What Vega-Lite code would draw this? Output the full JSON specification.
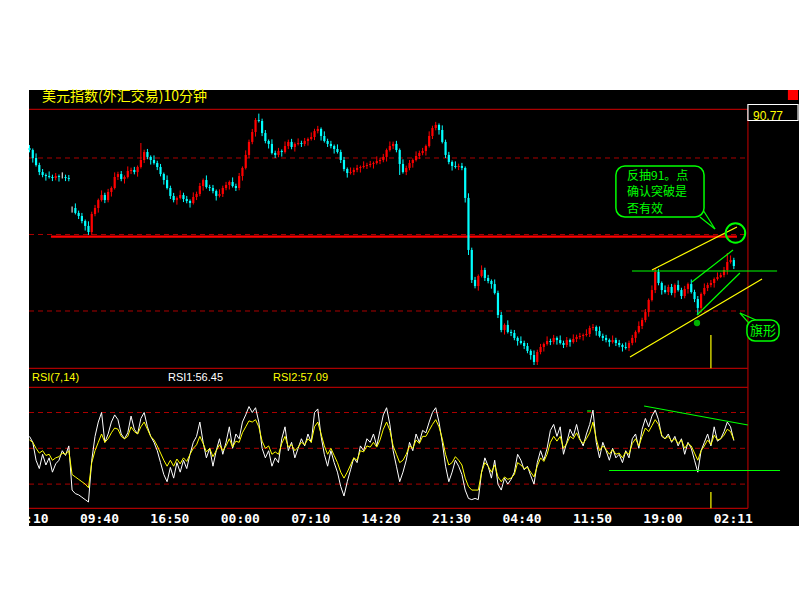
{
"$schema":"https://vega.github.io/schema/vega-lite/v6.json",
"width":770,"height":436,"autosize":"none",
"padding":{"left":29,"top":90,"right":1,"bottom":74},
"background":"white",
"config":{"view":{"fill":"black","stroke":null}},
"datasets":{
"k":[
{"t":0,"o":91.565,"h":91.585,"l":91.537,"c":91.552,"a":60,"b":57},
{"t":2,"o":91.552,"h":91.562,"l":91.470,"c":91.500,"a":55,"b":55},
{"t":4,"o":91.500,"h":91.530,"l":91.444,"c":91.454,"a":40,"b":50},
{"t":6,"o":91.454,"h":91.469,"l":91.388,"c":91.408,"a":33,"b":46},
{"t":8,"o":91.408,"h":91.428,"l":91.374,"c":91.389,"a":45,"b":48},
{"t":10,"o":91.389,"h":91.399,"l":91.352,"c":91.382,"a":36,"b":44},
{"t":12,"o":91.382,"h":91.412,"l":91.366,"c":91.376,"a":42,"b":45},
{"t":14,"o":91.376,"h":91.391,"l":91.349,"c":91.369,"a":30,"b":40},
{"t":16,"o":91.369,"h":91.402,"l":91.354,"c":91.382,"a":37,"b":42},
{"t":18,"o":91.382,"h":91.392,"l":91.346,"c":91.376,"a":40,"b":43},
{"t":20,"o":91.376,"h":91.406,"l":91.366,"c":91.376,"a":48,"b":46},
{"t":22,"o":91.376,"h":91.391,"l":91.349,"c":91.369,"a":44,"b":45},
{"t":24,"o":91.369,"h":91.389,"l":91.348,"c":91.363,"a":52,"b":48},
{"t":26,"o":91.173,"h":91.183,"l":91.143,"c":91.173,"a":15,"b":28},
{"t":28,"o":91.173,"h":91.203,"l":91.131,"c":91.141,"a":12,"b":26},
{"t":30,"o":91.141,"h":91.156,"l":91.101,"c":91.121,"a":11,"b":24},
{"t":32,"o":91.121,"h":91.141,"l":91.073,"c":91.088,"a":9,"b":22},
{"t":34,"o":91.088,"h":91.098,"l":91.026,"c":91.056,"a":7,"b":20},
{"t":36,"o":91.056,"h":91.086,"l":90.997,"c":91.016,"a":5,"b":17},
{"t":38,"o":91.016,"h":91.149,"l":90.997,"c":91.134,"a":40,"b":38},
{"t":40,"o":91.134,"h":91.193,"l":91.119,"c":91.173,"a":60,"b":48},
{"t":42,"o":91.173,"h":91.235,"l":91.143,"c":91.225,"a":72,"b":55},
{"t":44,"o":91.225,"h":91.288,"l":91.215,"c":91.258,"a":80,"b":62},
{"t":46,"o":91.258,"h":91.273,"l":91.205,"c":91.225,"a":55,"b":55},
{"t":48,"o":91.225,"h":91.298,"l":91.210,"c":91.278,"a":62,"b":58},
{"t":50,"o":91.278,"h":91.314,"l":91.248,"c":91.304,"a":72,"b":63},
{"t":52,"o":91.304,"h":91.406,"l":91.294,"c":91.376,"a":78,"b":67},
{"t":54,"o":91.376,"h":91.410,"l":91.356,"c":91.395,"a":74,"b":66},
{"t":56,"o":91.395,"h":91.415,"l":91.348,"c":91.363,"a":62,"b":60},
{"t":58,"o":91.363,"h":91.386,"l":91.333,"c":91.376,"a":58,"b":58},
{"t":60,"o":91.376,"h":91.445,"l":91.366,"c":91.415,"a":63,"b":60},
{"t":62,"o":91.415,"h":91.437,"l":91.395,"c":91.422,"a":77,"b":68},
{"t":64,"o":91.422,"h":91.442,"l":91.393,"c":91.408,"a":66,"b":64},
{"t":66,"o":91.408,"h":91.451,"l":91.378,"c":91.441,"a":62,"b":62},
{"t":68,"o":91.441,"h":91.598,"l":91.431,"c":91.487,"a":75,"b":68},
{"t":70,"o":91.487,"h":91.554,"l":91.467,"c":91.539,"a":80,"b":72},
{"t":72,"o":91.539,"h":91.559,"l":91.492,"c":91.507,"a":68,"b":66},
{"t":74,"o":91.507,"h":91.517,"l":91.457,"c":91.487,"a":60,"b":60},
{"t":76,"o":91.487,"h":91.517,"l":91.457,"c":91.467,"a":55,"b":57},
{"t":78,"o":91.467,"h":91.482,"l":91.421,"c":91.441,"a":48,"b":52},
{"t":80,"o":91.441,"h":91.461,"l":91.380,"c":91.395,"a":38,"b":46},
{"t":82,"o":91.395,"h":91.405,"l":91.326,"c":91.356,"a":28,"b":40},
{"t":84,"o":91.356,"h":91.386,"l":91.294,"c":91.304,"a":22,"b":35},
{"t":86,"o":91.304,"h":91.319,"l":91.232,"c":91.252,"a":34,"b":40},
{"t":88,"o":91.252,"h":91.272,"l":91.210,"c":91.225,"a":25,"b":35},
{"t":90,"o":91.225,"h":91.249,"l":91.195,"c":91.239,"a":38,"b":41},
{"t":92,"o":91.239,"h":91.288,"l":91.229,"c":91.258,"a":30,"b":37},
{"t":94,"o":91.258,"h":91.273,"l":91.212,"c":91.232,"a":40,"b":42},
{"t":96,"o":91.232,"h":91.252,"l":91.204,"c":91.219,"a":33,"b":39},
{"t":98,"o":91.219,"h":91.229,"l":91.176,"c":91.206,"a":45,"b":45},
{"t":100,"o":91.206,"h":91.275,"l":91.196,"c":91.245,"a":55,"b":50},
{"t":102,"o":91.245,"h":91.280,"l":91.225,"c":91.265,"a":60,"b":53},
{"t":104,"o":91.265,"h":91.337,"l":91.250,"c":91.317,"a":72,"b":60},
{"t":106,"o":91.317,"h":91.366,"l":91.287,"c":91.356,"a":55,"b":54},
{"t":108,"o":91.356,"h":91.386,"l":91.300,"c":91.310,"a":42,"b":47},
{"t":110,"o":91.310,"h":91.325,"l":91.284,"c":91.304,"a":50,"b":50},
{"t":112,"o":91.304,"h":91.324,"l":91.269,"c":91.284,"a":35,"b":43},
{"t":114,"o":91.284,"h":91.294,"l":91.222,"c":91.252,"a":48,"b":48},
{"t":116,"o":91.252,"h":91.295,"l":91.242,"c":91.265,"a":58,"b":53},
{"t":118,"o":91.265,"h":91.319,"l":91.245,"c":91.304,"a":45,"b":48},
{"t":120,"o":91.304,"h":91.344,"l":91.289,"c":91.324,"a":55,"b":52},
{"t":122,"o":91.324,"h":91.353,"l":91.294,"c":91.343,"a":68,"b":58},
{"t":124,"o":91.343,"h":91.373,"l":91.307,"c":91.317,"a":50,"b":51},
{"t":126,"o":91.317,"h":91.332,"l":91.284,"c":91.304,"a":62,"b":56},
{"t":128,"o":91.304,"h":91.402,"l":91.289,"c":91.382,"a":58,"b":55},
{"t":130,"o":91.382,"h":91.445,"l":91.352,"c":91.435,"a":72,"b":63},
{"t":132,"o":91.435,"h":91.550,"l":91.425,"c":91.520,"a":78,"b":68},
{"t":134,"o":91.520,"h":91.620,"l":91.500,"c":91.605,"a":85,"b":73},
{"t":136,"o":91.605,"h":91.690,"l":91.590,"c":91.670,"a":80,"b":72},
{"t":138,"o":91.670,"h":91.761,"l":91.640,"c":91.748,"a":84,"b":74},
{"t":140,"o":91.748,"h":91.790,"l":91.732,"c":91.742,"a":72,"b":68},
{"t":142,"o":91.742,"h":91.757,"l":91.643,"c":91.663,"a":50,"b":56},
{"t":144,"o":91.663,"h":91.683,"l":91.596,"c":91.611,"a":42,"b":50},
{"t":146,"o":91.611,"h":91.621,"l":91.562,"c":91.592,"a":48,"b":52},
{"t":148,"o":91.592,"h":91.622,"l":91.523,"c":91.533,"a":35,"b":45},
{"t":150,"o":91.533,"h":91.548,"l":91.500,"c":91.520,"a":42,"b":47},
{"t":152,"o":91.520,"h":91.566,"l":91.505,"c":91.546,"a":38,"b":45},
{"t":154,"o":91.546,"h":91.556,"l":91.509,"c":91.539,"a":58,"b":54},
{"t":156,"o":91.539,"h":91.608,"l":91.529,"c":91.578,"a":68,"b":60},
{"t":158,"o":91.578,"h":91.620,"l":91.558,"c":91.605,"a":48,"b":51},
{"t":160,"o":91.605,"h":91.625,"l":91.557,"c":91.572,"a":55,"b":53},
{"t":162,"o":91.572,"h":91.602,"l":91.542,"c":91.592,"a":42,"b":48},
{"t":164,"o":91.592,"h":91.628,"l":91.582,"c":91.598,"a":50,"b":51},
{"t":166,"o":91.598,"h":91.613,"l":91.572,"c":91.592,"a":58,"b":55},
{"t":168,"o":91.592,"h":91.631,"l":91.577,"c":91.611,"a":52,"b":53},
{"t":170,"o":91.611,"h":91.634,"l":91.581,"c":91.624,"a":62,"b":58},
{"t":172,"o":91.624,"h":91.667,"l":91.614,"c":91.637,"a":55,"b":55},
{"t":174,"o":91.637,"h":91.691,"l":91.617,"c":91.676,"a":80,"b":68},
{"t":176,"o":91.676,"h":91.710,"l":91.661,"c":91.690,"a":83,"b":72},
{"t":178,"o":91.690,"h":91.700,"l":91.614,"c":91.644,"a":60,"b":62},
{"t":180,"o":91.644,"h":91.674,"l":91.601,"c":91.611,"a":45,"b":52},
{"t":182,"o":91.611,"h":91.626,"l":91.572,"c":91.592,"a":35,"b":45},
{"t":184,"o":91.592,"h":91.612,"l":91.563,"c":91.578,"a":48,"b":50},
{"t":186,"o":91.578,"h":91.588,"l":91.529,"c":91.559,"a":38,"b":44},
{"t":188,"o":91.559,"h":91.589,"l":91.529,"c":91.539,"a":30,"b":38},
{"t":190,"o":91.539,"h":91.554,"l":91.467,"c":91.487,"a":18,"b":30},
{"t":192,"o":91.487,"h":91.507,"l":91.413,"c":91.428,"a":10,"b":25},
{"t":194,"o":91.428,"h":91.438,"l":91.372,"c":91.402,"a":22,"b":30},
{"t":196,"o":91.402,"h":91.438,"l":91.392,"c":91.408,"a":32,"b":36},
{"t":198,"o":91.408,"h":91.437,"l":91.388,"c":91.422,"a":42,"b":42},
{"t":200,"o":91.422,"h":91.455,"l":91.407,"c":91.435,"a":38,"b":40},
{"t":202,"o":91.435,"h":91.451,"l":91.405,"c":91.441,"a":52,"b":48},
{"t":204,"o":91.441,"h":91.478,"l":91.431,"c":91.448,"a":48,"b":47},
{"t":206,"o":91.448,"h":91.469,"l":91.428,"c":91.454,"a":58,"b":52},
{"t":208,"o":91.454,"h":91.481,"l":91.439,"c":91.461,"a":55,"b":51},
{"t":210,"o":91.461,"h":91.477,"l":91.431,"c":91.467,"a":62,"b":55},
{"t":212,"o":91.467,"h":91.510,"l":91.457,"c":91.480,"a":52,"b":51},
{"t":214,"o":91.480,"h":91.502,"l":91.460,"c":91.487,"a":65,"b":57},
{"t":216,"o":91.487,"h":91.527,"l":91.472,"c":91.507,"a":78,"b":66},
{"t":218,"o":91.507,"h":91.562,"l":91.477,"c":91.552,"a":84,"b":72},
{"t":220,"o":91.552,"h":91.608,"l":91.542,"c":91.578,"a":70,"b":65},
{"t":222,"o":91.578,"h":91.607,"l":91.558,"c":91.592,"a":48,"b":52},
{"t":224,"o":91.592,"h":91.612,"l":91.537,"c":91.552,"a":35,"b":45},
{"t":226,"o":91.552,"h":91.562,"l":91.389,"c":91.461,"a":22,"b":38},
{"t":228,"o":91.461,"h":91.491,"l":91.398,"c":91.408,"a":30,"b":40},
{"t":230,"o":91.408,"h":91.450,"l":91.388,"c":91.435,"a":40,"b":45},
{"t":232,"o":91.435,"h":91.487,"l":91.420,"c":91.467,"a":55,"b":52},
{"t":234,"o":91.467,"h":91.497,"l":91.437,"c":91.487,"a":48,"b":50},
{"t":236,"o":91.487,"h":91.543,"l":91.477,"c":91.513,"a":62,"b":57},
{"t":238,"o":91.513,"h":91.548,"l":91.493,"c":91.533,"a":55,"b":54},
{"t":240,"o":91.533,"h":91.566,"l":91.518,"c":91.546,"a":65,"b":60},
{"t":242,"o":91.546,"h":91.588,"l":91.516,"c":91.578,"a":63,"b":60},
{"t":244,"o":91.578,"h":91.674,"l":91.568,"c":91.644,"a":72,"b":65},
{"t":246,"o":91.644,"h":91.711,"l":91.624,"c":91.696,"a":80,"b":70},
{"t":248,"o":91.696,"h":91.736,"l":91.681,"c":91.716,"a":84,"b":74},
{"t":250,"o":91.716,"h":91.726,"l":91.653,"c":91.683,"a":72,"b":68},
{"t":252,"o":91.683,"h":91.713,"l":91.595,"c":91.605,"a":55,"b":58},
{"t":254,"o":91.605,"h":91.620,"l":91.500,"c":91.520,"a":35,"b":45},
{"t":256,"o":91.520,"h":91.540,"l":91.459,"c":91.474,"a":22,"b":36},
{"t":258,"o":91.474,"h":91.484,"l":91.418,"c":91.448,"a":30,"b":38},
{"t":260,"o":91.448,"h":91.478,"l":91.431,"c":91.441,"a":40,"b":43},
{"t":262,"o":91.441,"h":91.463,"l":91.421,"c":91.448,"a":35,"b":40},
{"t":264,"o":91.448,"h":91.468,"l":91.420,"c":91.435,"a":28,"b":36},
{"t":266,"o":91.435,"h":91.445,"l":91.209,"c":91.239,"a":15,"b":25},
{"t":268,"o":91.239,"h":91.269,"l":90.866,"c":90.899,"a":8,"b":18},
{"t":270,"o":90.899,"h":90.914,"l":90.683,"c":90.703,"a":7,"b":15},
{"t":272,"o":90.703,"h":90.723,"l":90.648,"c":90.663,"a":8,"b":15},
{"t":274,"o":90.663,"h":90.739,"l":90.633,"c":90.729,"a":7,"b":15},
{"t":276,"o":90.729,"h":90.798,"l":90.719,"c":90.768,"a":30,"b":30},
{"t":278,"o":90.768,"h":90.783,"l":90.696,"c":90.716,"a":42,"b":38},
{"t":280,"o":90.716,"h":90.736,"l":90.681,"c":90.696,"a":35,"b":35},
{"t":282,"o":90.696,"h":90.706,"l":90.646,"c":90.676,"a":25,"b":30},
{"t":284,"o":90.676,"h":90.706,"l":90.608,"c":90.618,"a":40,"b":36},
{"t":286,"o":90.618,"h":90.633,"l":90.454,"c":90.474,"a":20,"b":26},
{"t":288,"o":90.474,"h":90.494,"l":90.361,"c":90.376,"a":15,"b":22},
{"t":290,"o":90.376,"h":90.419,"l":90.346,"c":90.409,"a":25,"b":26},
{"t":292,"o":90.409,"h":90.439,"l":90.353,"c":90.363,"a":20,"b":24},
{"t":294,"o":90.363,"h":90.378,"l":90.336,"c":90.356,"a":24,"b":25},
{"t":296,"o":90.356,"h":90.376,"l":90.309,"c":90.324,"a":30,"b":28},
{"t":298,"o":90.324,"h":90.334,"l":90.274,"c":90.304,"a":45,"b":38},
{"t":300,"o":90.304,"h":90.334,"l":90.281,"c":90.291,"a":40,"b":36},
{"t":302,"o":90.291,"h":90.306,"l":90.251,"c":90.271,"a":32,"b":33},
{"t":304,"o":90.271,"h":90.291,"l":90.224,"c":90.239,"a":35,"b":34},
{"t":306,"o":90.239,"h":90.249,"l":90.182,"c":90.212,"a":27,"b":30},
{"t":308,"o":90.212,"h":90.242,"l":90.147,"c":90.167,"a":20,"b":26},
{"t":310,"o":90.167,"h":90.247,"l":90.147,"c":90.232,"a":38,"b":35},
{"t":312,"o":90.232,"h":90.285,"l":90.217,"c":90.265,"a":48,"b":42},
{"t":314,"o":90.265,"h":90.294,"l":90.235,"c":90.284,"a":40,"b":39},
{"t":316,"o":90.284,"h":90.334,"l":90.274,"c":90.304,"a":50,"b":45},
{"t":318,"o":90.304,"h":90.319,"l":90.277,"c":90.297,"a":65,"b":55},
{"t":320,"o":90.297,"h":90.344,"l":90.282,"c":90.324,"a":70,"b":60},
{"t":322,"o":90.324,"h":90.334,"l":90.280,"c":90.310,"a":60,"b":56},
{"t":324,"o":90.310,"h":90.340,"l":90.281,"c":90.291,"a":68,"b":60},
{"t":326,"o":90.291,"h":90.306,"l":90.258,"c":90.278,"a":45,"b":50},
{"t":328,"o":90.278,"h":90.330,"l":90.263,"c":90.310,"a":55,"b":54},
{"t":330,"o":90.310,"h":90.320,"l":90.267,"c":90.297,"a":66,"b":60},
{"t":332,"o":90.297,"h":90.347,"l":90.287,"c":90.317,"a":60,"b":58},
{"t":334,"o":90.317,"h":90.345,"l":90.297,"c":90.330,"a":70,"b":63},
{"t":336,"o":90.330,"h":90.357,"l":90.315,"c":90.337,"a":58,"b":57},
{"t":338,"o":90.337,"h":90.353,"l":90.307,"c":90.343,"a":52,"b":54},
{"t":340,"o":90.343,"h":90.380,"l":90.333,"c":90.350,"a":62,"b":58},
{"t":342,"o":90.350,"h":90.404,"l":90.330,"c":90.389,"a":70,"b":63},
{"t":344,"o":90.389,"h":90.415,"l":90.374,"c":90.395,"a":82,"b":72},
{"t":346,"o":90.395,"h":90.405,"l":90.339,"c":90.369,"a":55,"b":58},
{"t":348,"o":90.369,"h":90.399,"l":90.327,"c":90.337,"a":42,"b":48},
{"t":350,"o":90.337,"h":90.352,"l":90.304,"c":90.324,"a":55,"b":52},
{"t":352,"o":90.324,"h":90.344,"l":90.295,"c":90.310,"a":48,"b":49},
{"t":354,"o":90.310,"h":90.320,"l":90.267,"c":90.297,"a":40,"b":45},
{"t":356,"o":90.297,"h":90.340,"l":90.287,"c":90.310,"a":50,"b":49},
{"t":358,"o":90.310,"h":90.325,"l":90.271,"c":90.291,"a":42,"b":45},
{"t":360,"o":90.291,"h":90.311,"l":90.263,"c":90.278,"a":45,"b":46},
{"t":362,"o":90.278,"h":90.288,"l":90.235,"c":90.265,"a":38,"b":42},
{"t":364,"o":90.265,"h":90.295,"l":90.248,"c":90.258,"a":48,"b":47},
{"t":366,"o":90.258,"h":90.306,"l":90.238,"c":90.291,"a":42,"b":45},
{"t":368,"o":90.291,"h":90.344,"l":90.276,"c":90.324,"a":58,"b":54},
{"t":370,"o":90.324,"h":90.373,"l":90.294,"c":90.363,"a":62,"b":58},
{"t":372,"o":90.363,"h":90.432,"l":90.353,"c":90.402,"a":50,"b":52},
{"t":374,"o":90.402,"h":90.456,"l":90.382,"c":90.441,"a":66,"b":60},
{"t":376,"o":90.441,"h":90.513,"l":90.426,"c":90.493,"a":75,"b":67},
{"t":378,"o":90.493,"h":90.582,"l":90.463,"c":90.572,"a":68,"b":64},
{"t":380,"o":90.572,"h":90.667,"l":90.562,"c":90.637,"a":77,"b":69},
{"t":382,"o":90.637,"h":90.781,"l":90.617,"c":90.755,"a":82,"b":74},
{"t":384,"o":90.755,"h":90.775,"l":90.668,"c":90.683,"a":74,"b":70},
{"t":386,"o":90.683,"h":90.693,"l":90.607,"c":90.637,"a":60,"b":61},
{"t":388,"o":90.637,"h":90.667,"l":90.614,"c":90.624,"a":58,"b":58},
{"t":390,"o":90.624,"h":90.672,"l":90.604,"c":90.657,"a":62,"b":60},
{"t":392,"o":90.657,"h":90.677,"l":90.603,"c":90.618,"a":55,"b":56},
{"t":394,"o":90.618,"h":90.680,"l":90.588,"c":90.670,"a":60,"b":58},
{"t":396,"o":90.670,"h":90.700,"l":90.627,"c":90.637,"a":52,"b":54},
{"t":398,"o":90.637,"h":90.652,"l":90.578,"c":90.598,"a":58,"b":57},
{"t":400,"o":90.598,"h":90.664,"l":90.583,"c":90.644,"a":45,"b":50},
{"t":402,"o":90.644,"h":90.686,"l":90.614,"c":90.676,"a":55,"b":54},
{"t":404,"o":90.676,"h":90.706,"l":90.614,"c":90.624,"a":50,"b":52},
{"t":406,"o":90.624,"h":90.639,"l":90.558,"c":90.578,"a":40,"b":46},
{"t":408,"o":90.578,"h":90.598,"l":90.474,"c":90.520,"a":30,"b":40},
{"t":410,"o":90.520,"h":90.621,"l":90.490,"c":90.611,"a":48,"b":48},
{"t":412,"o":90.611,"h":90.680,"l":90.601,"c":90.650,"a":55,"b":52},
{"t":414,"o":90.650,"h":90.685,"l":90.630,"c":90.670,"a":62,"b":57},
{"t":416,"o":90.670,"h":90.703,"l":90.655,"c":90.683,"a":52,"b":53},
{"t":418,"o":90.683,"h":90.719,"l":90.653,"c":90.709,"a":68,"b":61},
{"t":420,"o":90.709,"h":90.752,"l":90.699,"c":90.722,"a":56,"b":57},
{"t":422,"o":90.722,"h":90.750,"l":90.715,"c":90.735,"a":58,"b":58},
{"t":424,"o":90.735,"h":90.788,"l":90.720,"c":90.768,"a":64,"b":61},
{"t":426,"o":90.768,"h":90.879,"l":90.738,"c":90.820,"a":72,"b":66},
{"t":428,"o":90.820,"h":90.863,"l":90.810,"c":90.833,"a":68,"b":64},
{"t":430,"o":90.833,"h":90.848,"l":90.774,"c":90.794,"a":56.45,"b":57.09}
],
"ps":[
{"k":"y","t":380.0,"p":90.768,"t2":431.9,"p2":91.049},
{"k":"y","t":366.6,"p":90.199,"t2":447.2,"p2":90.709},
{"k":"g","t":367.8,"p":90.7614,"t2":456.4,"p2":90.7614},
{"k":"g","t":404.4,"p":90.6895,"t2":429.5,"p2":90.8987},
{"k":"g","t":407.5,"p":90.474,"t2":433.7,"p2":90.7484},
{"k":"g","t":411.2,"p":91.160,"t2":418.5,"p2":91.036},
{"k":"g","t":409.3,"p":91.1144,"t2":418.5,"p2":91.036},
{"k":"g","t":439.2,"p":90.421,"t2":433.7,"p2":90.487},
{"k":"g","t":443.5,"p":90.441,"t2":433.7,"p2":90.487},
{"k":"y","t":416.0,"p":90.343,"t2":416.0,"p2":90.1255}
],
"rs":[
{"k":"g","t":375.2,"p":85.45,"t2":438.6,"p2":69.53},
{"k":"g","t":340.4,"p":81.26,"t2":342.8,"p2":81.26},
{"k":"g","t":353.8,"p":31.4,"t2":458.2,"p2":31.4},
{"k":"y","t":416.0,"p":13.38,"t2":416.0,"p2":-0.28}
],
"tl":[
{"t":-0.3,"s":"02:10"},{"t":42.7,"s":"09:40"},{"t":85.7,"s":"16:50"},{"t":128.7,"s":"00:00"},
{"t":171.7,"s":"07:10"},{"t":214.7,"s":"14:20"},{"t":257.7,"s":"21:30"},{"t":300.7,"s":"04:40"},
{"t":343.7,"s":"11:50"},{"t":386.7,"s":"19:00"},{"t":429.7,"s":"02:11"}
]
},
"layer":[
{"layer":[
{"data":{"values":[{"p":91.5},{"p":91.0},{"p":90.5}]},
 "mark":{"type":"rule","color":"#aa0000","strokeDash":[5,4],"strokeWidth":1},
 "encoding":{
  "y":{"field":"p","type":"quantitative","scale":{"domain":[89.0948,91.9444],"nice":false,"zero":false},
       "axis":{"orient":"right","offset":-51,"values":[90.5,91,91.5],"format":".2f","domain":false,"ticks":false,"grid":false,"labelColor":"#aa0000","labelFont":"Liberation Sans","labelFontSize":11,"labelPadding":3,"title":null}},
  "x":{"datum":-0.305,"type":"quantitative","scale":{"domain":[-0.305,469.78],"nice":false,"zero":false},"axis":null},
  "x2":{"datum":438.6}}},
{"data":{"values":[{"t":-0.305,"p":91.818,"t2":438.6,"p2":91.818},{"t":-0.305,"p":90.1255,"t2":438.6,"p2":90.1255},{"t":438.6,"p":91.818,"t2":438.6,"p2":89.2105}]},
 "mark":{"type":"rule","color":"#aa0000","strokeWidth":1.2},
 "encoding":{
  "x":{"field":"t","type":"quantitative","scale":{"domain":[-0.305,469.78],"nice":false,"zero":false},"axis":null},
  "x2":{"field":"t2"},
  "y":{"field":"p","type":"quantitative","scale":{"domain":[89.0948,91.9444],"nice":false,"zero":false},"axis":null},
  "y2":{"field":"p2"}}},
{"data":{"values":[{"t":13.1,"p":90.9856,"t2":431.9}]},
 "mark":{"type":"rule","color":"#ff0000","strokeWidth":2.2},
 "encoding":{
  "x":{"field":"t","type":"quantitative","scale":{"domain":[-0.305,469.78],"nice":false,"zero":false},"axis":null},
  "x2":{"field":"t2"},
  "y":{"field":"p","type":"quantitative","scale":{"domain":[89.0948,91.9444],"nice":false,"zero":false},"axis":null}}},
{"data":{"name":"k"},
 "mark":{"type":"rule","strokeWidth":1},
 "encoding":{
  "x":{"field":"t","type":"quantitative","scale":{"domain":[-0.305,469.78],"nice":false,"zero":false},"axis":null},
  "y":{"field":"l","type":"quantitative","scale":{"domain":[89.0948,91.9444],"nice":false,"zero":false},"axis":null},
  "y2":{"field":"h"},
  "color":{"condition":[{"test":"datum.c>datum.o","value":"#ff0000"},{"test":"datum.c<datum.o","value":"#00ffff"}],"value":"#ffffff"}}},
{"data":{"name":"k"},
 "mark":{"type":"rule","strokeWidth":2.2},
 "encoding":{
  "x":{"field":"t","type":"quantitative","scale":{"domain":[-0.305,469.78],"nice":false,"zero":false},"axis":null},
  "y":{"field":"o","type":"quantitative","scale":{"domain":[89.0948,91.9444],"nice":false,"zero":false},"axis":null},
  "y2":{"field":"c"},
  "color":{"condition":[{"test":"datum.c>datum.o","value":"#ff0000"},{"test":"datum.c<datum.o","value":"#00ffff"}],"value":"#ffffff"}}},
{"data":{"name":"ps"},
 "mark":{"type":"rule","strokeWidth":1.2},
 "encoding":{
  "x":{"field":"t","type":"quantitative","scale":{"domain":[-0.305,469.78],"nice":false,"zero":false},"axis":null},
  "x2":{"field":"t2"},
  "y":{"field":"p","type":"quantitative","scale":{"domain":[89.0948,91.9444],"nice":false,"zero":false},"axis":null},
  "y2":{"field":"p2"},
  "color":{"field":"k","type":"nominal","scale":{"domain":["y","g","w"],"range":["#ffff00","#00ff00","#ffffff"]},"legend":null}}},
{"data":{"values":[{}]},
 "mark":{"type":"point","shape":"circle","filled":true,"color":"#00ff00","size":40},
 "encoding":{
  "x":{"datum":407.5,"type":"quantitative","scale":{"domain":[-0.305,469.78],"nice":false,"zero":false},"axis":null},
  "y":{"datum":90.4216,"type":"quantitative","scale":{"domain":[89.0948,91.9444],"nice":false,"zero":false},"axis":null}}},
{"data":{"values":[{}]},
 "mark":{"type":"point","shape":"circle","filled":false,"color":"#00ff00","strokeWidth":2,"size":380,"opacity":1},
 "encoding":{
  "x":{"datum":431.0,"type":"quantitative","scale":{"domain":[-0.305,469.78],"nice":false,"zero":false},"axis":null},
  "y":{"datum":91.0098,"type":"quantitative","scale":{"domain":[89.0948,91.9444],"nice":false,"zero":false},"axis":null}}},
{"data":{"values":[{}]},
 "mark":{"type":"rect","fill":"#000000","stroke":"#00ff00","strokeWidth":1.5,"cornerRadius":9},
 "encoding":{
  "x":{"datum":358.0,"type":"quantitative","scale":{"domain":[-0.305,469.78],"nice":false,"zero":false},"axis":null},
  "x2":{"datum":411.8},
  "y":{"datum":91.4477,"type":"quantitative","scale":{"domain":[89.0948,91.9444],"nice":false,"zero":false},"axis":null},
  "y2":{"datum":91.1144}}},
{"data":{"values":[{"s":"反抽91。点","t":364.8,"p":91.3824},{"s":"确认突破是","t":364.8,"p":91.2778},{"s":"否有效","t":364.8,"p":91.1699}]},
 "mark":{"type":"text","align":"left","baseline":"middle","font":"Noto Sans CJK SC","fontSize":12,"color":"#00ff00"},
 "encoding":{
  "x":{"field":"t","type":"quantitative","scale":{"domain":[-0.305,469.78],"nice":false,"zero":false},"axis":null},
  "y":{"field":"p","type":"quantitative","scale":{"domain":[89.0948,91.9444],"nice":false,"zero":false},"axis":null},
  "text":{"field":"s"}}},
{"data":{"values":[{}]},
 "mark":{"type":"rect","fill":"#000000","stroke":"#00ff00","strokeWidth":1.5,"cornerRadius":8},
 "encoding":{
  "x":{"datum":438.0,"type":"quantitative","scale":{"domain":[-0.305,469.78],"nice":false,"zero":false},"axis":null},
  "x2":{"datum":457.6},
  "y":{"datum":90.441,"type":"quantitative","scale":{"domain":[89.0948,91.9444],"nice":false,"zero":false},"axis":null},
  "y2":{"datum":90.304}}},
{"data":{"values":[{}]},
 "mark":{"type":"text","text":"旗形","align":"center","baseline":"middle","font":"Noto Sans CJK SC","fontSize":13,"color":"#00ff00"},
 "encoding":{
  "x":{"datum":447.8,"type":"quantitative","scale":{"domain":[-0.305,469.78],"nice":false,"zero":false},"axis":null},
  "y":{"datum":90.369,"type":"quantitative","scale":{"domain":[89.0948,91.9444],"nice":false,"zero":false},"axis":null}}},
{"data":{"values":[{}]},
 "mark":{"type":"text","text":"美元指数(外汇交易)10分钟","align":"left","baseline":"middle","font":"Noto Sans CJK SC","fontSize":14,"color":"#ffff00"},
 "encoding":{
  "x":{"datum":7.63,"type":"quantitative","scale":{"domain":[-0.305,469.78],"nice":false,"zero":false},"axis":null},
  "y":{"datum":91.899,"type":"quantitative","scale":{"domain":[89.0948,91.9444],"nice":false,"zero":false},"axis":null}}},
{"data":{"values":[{}]},
 "mark":{"type":"rect","fill":"#000000","stroke":"#ffffff","strokeWidth":1.2},
 "encoding":{
  "x":{"datum":438.6,"type":"quantitative","scale":{"domain":[-0.305,469.78],"nice":false,"zero":false},"axis":null},
  "x2":{"datum":469.2},
  "y":{"datum":91.8496,"type":"quantitative","scale":{"domain":[89.0948,91.9444],"nice":false,"zero":false},"axis":null},
  "y2":{"datum":91.745}}},
{"data":{"values":[{}]},
 "mark":{"type":"text","text":"90.77","align":"left","baseline":"middle","font":"Liberation Sans","fontSize":12,"color":"#ffff00"},
 "encoding":{
  "x":{"datum":441.7,"type":"quantitative","scale":{"domain":[-0.305,469.78],"nice":false,"zero":false},"axis":null},
  "y":{"datum":91.7757,"type":"quantitative","scale":{"domain":[89.0948,91.9444],"nice":false,"zero":false},"axis":null}}},
{"data":{"values":[{}]},
 "mark":{"type":"rect","fill":"#ff0000"},
 "encoding":{
  "x":{"datum":463.0,"type":"quantitative","scale":{"domain":[-0.305,469.78],"nice":false,"zero":false},"axis":null},
  "x2":{"datum":469.2},
  "y":{"datum":91.9444,"type":"quantitative","scale":{"domain":[89.0948,91.9444],"nice":false,"zero":false},"axis":null},
  "y2":{"datum":91.879}}}
]},
{"layer":[
{"data":{"values":[{"p":80},{"p":50},{"p":20}]},
 "mark":{"type":"rule","color":"#aa0000","strokeDash":[5,4],"strokeWidth":1},
 "encoding":{
  "y":{"field":"p","type":"quantitative","scale":{"domain":[-15.11,350.26],"nice":false,"zero":false},
       "axis":{"orient":"right","offset":-51,"values":[20,50,80],"format":"d","domain":false,"ticks":false,"grid":false,"labelColor":"#aa0000","labelFont":"Liberation Sans","labelFontSize":11,"labelPadding":3,"title":null}},
  "x":{"datum":-0.305,"type":"quantitative","scale":{"domain":[-0.305,469.78],"nice":false,"zero":false},"axis":null},
  "x2":{"datum":438.6}}},
{"data":{"values":[{"t":-0.305,"p":101.12,"t2":438.6},{"t":-0.305,"p":-0.28,"t2":438.6}]},
 "mark":{"type":"rule","color":"#aa0000","strokeWidth":1.2},
 "encoding":{
  "x":{"field":"t","type":"quantitative","scale":{"domain":[-0.305,469.78],"nice":false,"zero":false},"axis":null},
  "x2":{"field":"t2"},
  "y":{"field":"p","type":"quantitative","scale":{"domain":[-15.11,350.26],"nice":false,"zero":false},"axis":null}}},
{"data":{"name":"k"},
 "mark":{"type":"line","color":"#ffffff","strokeWidth":1},
 "encoding":{
  "x":{"field":"t","type":"quantitative","scale":{"domain":[-0.305,469.78],"nice":false,"zero":false},"axis":null},
  "y":{"field":"a","type":"quantitative","scale":{"domain":[-15.11,350.26],"nice":false,"zero":false},"axis":null}}},
{"data":{"name":"k"},
 "mark":{"type":"line","color":"#ffff00","strokeWidth":1},
 "encoding":{
  "x":{"field":"t","type":"quantitative","scale":{"domain":[-0.305,469.78],"nice":false,"zero":false},"axis":null},
  "y":{"field":"b","type":"quantitative","scale":{"domain":[-15.11,350.26],"nice":false,"zero":false},"axis":null}}},
{"data":{"name":"rs"},
 "mark":{"type":"rule","strokeWidth":1.2},
 "encoding":{
  "x":{"field":"t","type":"quantitative","scale":{"domain":[-0.305,469.78],"nice":false,"zero":false},"axis":null},
  "x2":{"field":"t2"},
  "y":{"field":"p","type":"quantitative","scale":{"domain":[-15.11,350.26],"nice":false,"zero":false},"axis":null},
  "y2":{"field":"p2"},
  "color":{"field":"k","type":"nominal","scale":{"domain":["y","g","w"],"range":["#ffff00","#00ff00","#ffffff"]},"legend":null}}},
{"data":{"values":[{"s":"RSI(7,14)","t":1.53,"k":"y"},{"s":"RSI1:56.45","t":84.55,"k":"w"},{"s":"RSI2:57.09","t":148.65,"k":"y"}]},
 "mark":{"type":"text","align":"left","baseline":"middle","font":"Liberation Sans","fontSize":11},
 "encoding":{
  "x":{"field":"t","type":"quantitative","scale":{"domain":[-0.305,469.78],"nice":false,"zero":false},"axis":null},
  "y":{"datum":109.33,"type":"quantitative","scale":{"domain":[-15.11,350.26],"nice":false,"zero":false},"axis":null},
  "text":{"field":"s"},
  "color":{"field":"k","type":"nominal","scale":{"domain":["y","g","w"],"range":["#ffff00","#00ff00","#ffffff"]},"legend":null}}},
{"data":{"name":"tl"},
 "mark":{"type":"text","align":"center","baseline":"middle","font":"DejaVu Sans Mono","fontSize":13,"fontWeight":"bold","color":"#ffffff"},
 "encoding":{
  "x":{"field":"t","type":"quantitative","scale":{"domain":[-0.305,469.78],"nice":false,"zero":false},"axis":null},
  "y":{"datum":-8.83,"type":"quantitative","scale":{"domain":[-15.11,350.26],"nice":false,"zero":false},"axis":null},
  "text":{"field":"s"}}}
]}
],
"resolve":{"scale":{"y":"independent"},"axis":{"y":"independent"}}
}
